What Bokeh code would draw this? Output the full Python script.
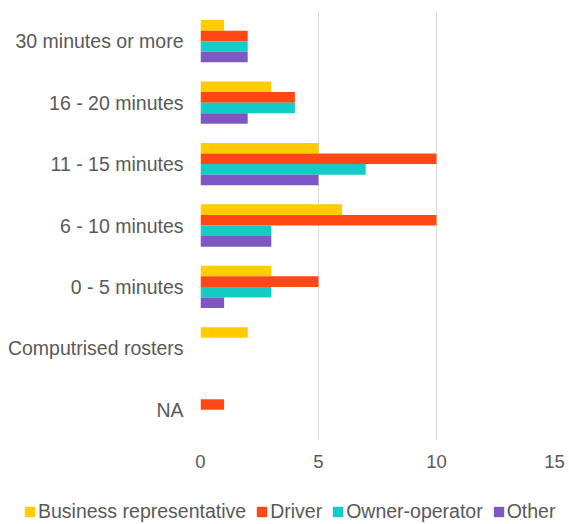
from bokeh.plotting import figure
from bokeh.layouts import column
from bokeh.models import (ColumnDataSource, FactorRange, Range1d, FixedTicker,
                          Legend, LegendItem)
from bokeh.transform import dodge
from bokeh.embed import file_html
from bokeh.resources import INLINE

# Response categories, listed top to bottom as displayed
categories = ["30 minutes or more", "16 - 20 minutes", "11 - 15 minutes",
              "6 - 10 minutes", "0 - 5 minutes", "Computrised rosters", "NA"]

business_representative = [1, 3, 5, 6, 3, 2, 0]
driver = [2, 4, 10, 10, 5, 0, 1]
owner_operator = [2, 4, 7, 3, 3, 0, 0]
other = [2, 2, 5, 3, 1, 0, 0]

series_names = ["Business representative", "Driver", "Owner-operator", "Other"]
x_ticks = [0, 5, 10, 15]

colors = ["#FFCC00", "#FF4814", "#14CCC6", "#7E57C2"]
TEXT = "#595959"
FONT = "Liberation Sans"

source = ColumnDataSource(data=dict(
    cat=categories,
    business=business_representative,
    driver=driver,
    owner=owner_operator,
    other=other,
))

p = figure(
    width=569, height=480,
    y_range=FactorRange(*reversed(categories), range_padding=0),
    x_range=Range1d(0, 15),
    output_backend="svg", toolbar_location=None,
    min_border_left=200, min_border_right=15,
    min_border_top=10, min_border_bottom=40,
)
p.frame_align = False
p.outline_line_color = None
p.background_fill_color = "white"
p.border_fill_color = "white"

bar_h = 0.172
offsets = [1.5 * bar_h, 0.5 * bar_h, -0.5 * bar_h, -1.5 * bar_h]
fields = ["business", "driver", "owner", "other"]

for field, off, col in zip(fields, offsets, colors):
    p.hbar(y=dodge("cat", off, range=p.y_range), left=0, right=field,
           height=bar_h, source=source, fill_color=col, line_color=None)

# Grid: vertical lines only
p.ygrid.grid_line_color = None
p.xgrid.grid_line_color = "#D9D9D9"
p.xgrid.grid_line_width = 1
p.xaxis.ticker = FixedTicker(ticks=x_ticks)

for ax in (p.xaxis[0], p.yaxis[0]):
    ax.axis_line_color = None
    ax.major_tick_line_color = None
    ax.minor_tick_line_color = None
    ax.major_tick_out = 0
    ax.major_tick_in = 0
    ax.major_label_text_font = FONT
    ax.major_label_text_color = TEXT

p.yaxis.major_label_text_font_size = "19.5px"
p.yaxis.major_label_standoff = 17
p.xaxis.major_label_text_font_size = "18.5px"
p.xaxis.major_label_standoff = 14

# Legend strip below the chart; each swatch renderer holds a single
# zero-length bar so the legend has a colour to draw from
leg_fig = figure(
    width=569, height=44,
    x_range=Range1d(0, 1), y_range=Range1d(0, 1),
    output_backend="svg", toolbar_location=None,
    x_axis_location=None, y_axis_location=None,
    min_border_left=0, min_border_right=0,
    min_border_top=0, min_border_bottom=0,
)
leg_fig.frame_align = False
leg_fig.outline_line_color = None
leg_fig.grid.grid_line_color = None
leg_fig.background_fill_color = "white"
leg_fig.border_fill_color = "white"

swatch_src = ColumnDataSource(data=dict(y=[0.5], left=[0], right=[0]))
swatches = [leg_fig.hbar(y="y", left="left", right="right", height=0.5,
                         source=swatch_src, fill_color=col, line_color=None)
            for col in colors]

legend = Legend(
    items=[LegendItem(label=n, renderers=[r]) for n, r in zip(series_names, swatches)],
    orientation="horizontal",
    location=(23, 1),
    glyph_width=13, glyph_height=13,
    label_standoff=2, spacing=9,
    padding=0, margin=0,
    border_line_color=None, background_fill_alpha=0,
    label_text_font=FONT, label_text_font_size="19.5px",
    label_text_color=TEXT, label_height=20,
)
leg_fig.add_layout(legend, "center")

layout = column(p, leg_fig, spacing=0)
open("out.html", "w").write(file_html(layout, INLINE))
